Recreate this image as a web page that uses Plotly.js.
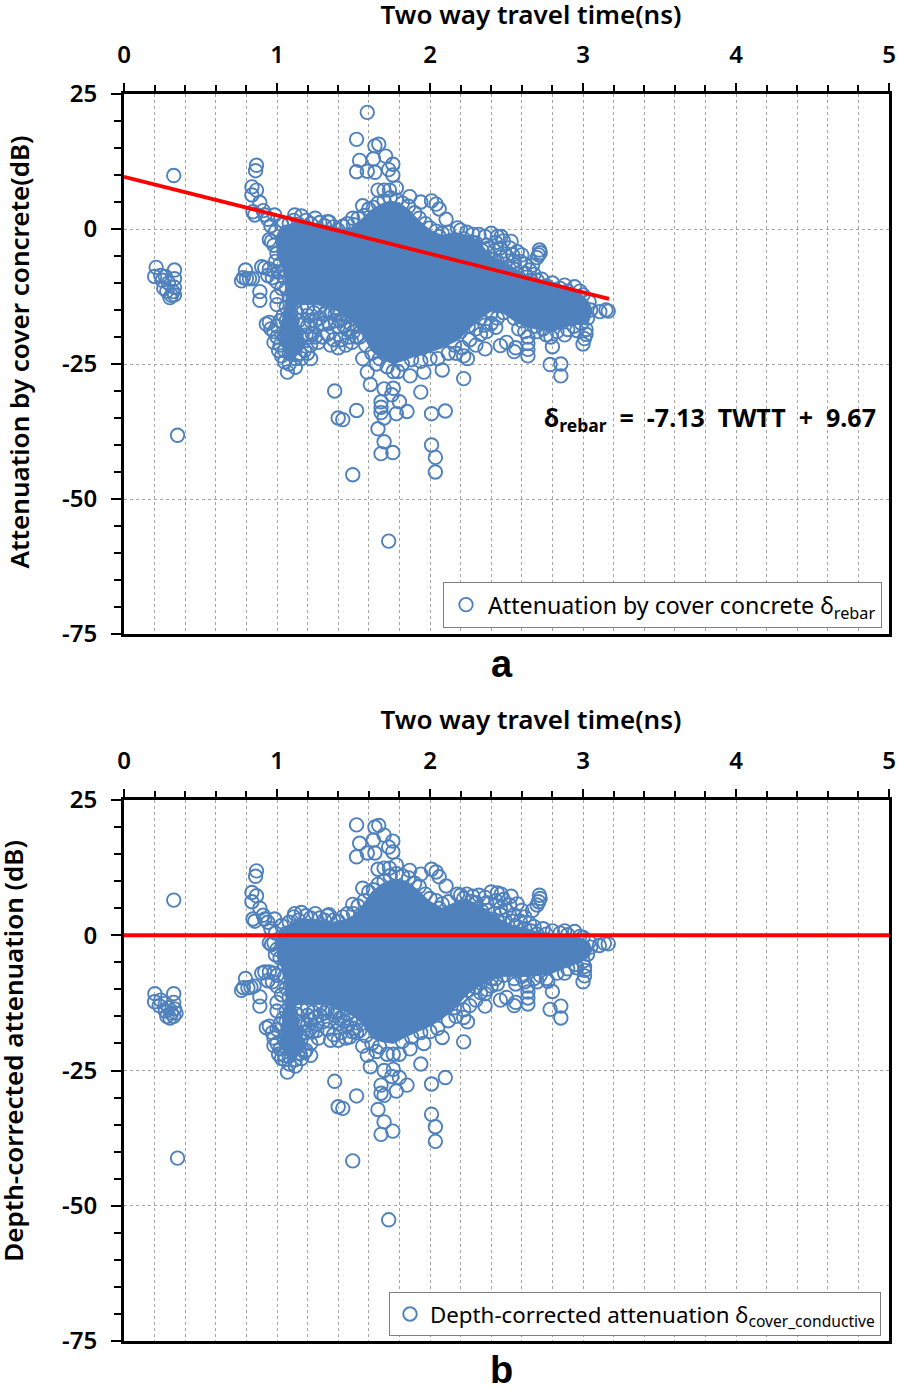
<!DOCTYPE html>
<html>
<head>
<meta charset="utf-8">
<script src="https://cdn.plot.ly/plotly-3.0.1.min.js"></script>
<style>html,body{margin:0;padding:0;background:#fff}</style>
</head>
<body>
<div id="chart" style="width:898px;height:1390px"></div>
<script>
// Panel a: attenuation by cover concrete [TWTT ns, dB]
const rebarPoints = [
[.21,-7.1],[.2,-8.8],[.24,-8.6],[.27,-8.8],[.25,-9.5],[.29,-10],[.33,-7.6],[.33,-9.2],[.33,-10.8],[.26,-11],[.28,-11.5],[.31,-12.3],[.3,-12.7],[.33,-12.2],[.32,-11.6],
[.35,-38.2],[.325,9.9],
[.768,-9.6],[.78,-9],[.8,-9.2],[.82,-9.2],[.84,-9.2],[.794,-7.6],[.888,-11.6],[.888,-13.2],[.9,-7],[.92,-7.2],[.95,-7.4],[.98,-7.8],[1.01,-8],[.94,-8.6],[.97,-9],[1.0,-9.8],
[.93,-17.6],[.95,-17.3],[.96,-18.5],[.98,-19],[1.0,-18],[1.02,-17],[1.04,-16],[1.0,-20],[.98,-21],[1.02,-21.5],[1.05,-20],[1.07,-18],[1.1,-17],[1.12,-19],[1.14,-21],[1.05,-22.5],[1.03,-23.5],[1.08,-23],[1.1,-22],[1.15,-23],[1.18,-22.5],[1.2,-23],[1.12,-24],[1.05,-24.6],[1.068,-26.5],[1.12,-25.6],[1.16,-20],[1.09,-15.5],[1.13,-15.5],[1.06,-14.5],[1.0,-12.5],[1.03,-11],[1.0,-14],
[1.19,-19.6],[1.21,-20],[1.23,-19.4],[1.25,-20],[1.28,-16.5],[1.3,-20],[1.33,-19.5],[1.35,-21.5],[1.37,-20.5],[1.4,-22],[1.42,-20.5],[1.45,-21.5],[1.47,-20],[1.49,-21],[1.4,-18],[1.44,-18],[1.48,-17.5],[1.24,-15.5],[1.33,-15],[1.38,-17],[1.16,-14.5],
[1.377,-30],[1.4,-35],[1.43,-35.3],[1.52,-33.6],[1.66,-37],[1.7,-39.4],[1.68,-41.6],[1.757,-41.4],[1.68,-34],[1.495,-45.5],[1.73,-57.8],[2.035,-45],[2.035,-42.3],[2.01,-40],[2.1,-33.7],[2.01,-34.2],[1.94,-30.2],[2.22,-27.7],[1.85,-33.8],[1.78,-34.2],[1.7,-35],[1.68,-33],[1.68,-32],[1.8,-32],[1.75,-30.7],[1.7,-29.6],[1.76,-29.5],[1.59,-26.5],[1.61,-28.8],[1.87,-27.2],[1.96,-26.5],[2.08,-26.1],[1.72,-25.5],[1.76,-26.4],[1.79,-26.4],[1.65,-25],[1.56,-24],
[2.8,-21.8],[2.785,-25.1],[2.855,-25],[2.855,-27.2],[3,-21.3],[3.01,-20.3],[3.02,-19.5],[3.02,-18.6],[2.36,-22.2],[2.46,-21.6],[2.5,-21],[2.55,-22.7],[2.56,-22],[2.64,-23.5],[2.64,-22.3],[2.64,-21.2],[2.64,-20],[2.62,-19],[2.58,-18.5],[2.43,-18.2],[3.11,-15.3],[3.15,-15],[3.165,-15.2],
[2.245,-24],[2.22,-23.5],[2.21,-22],[2.17,-23],[2.12,-23],[2.05,-24],[2,-24],[1.94,-24.5],[1.88,-24.2],[1.82,-25],[2.26,-20.5],[2.3,-21.5],[2.33,-19.5],[2.37,-19],[2.3,-18.5],[2.4,-17.5],[2.74,-18.5],[2.79,-20],[2.83,-19],[2.9,-18.6],[2.94,-18],[2.99,-17.5],[3.03,-16.5],[3.05,-15],[3.04,-13.5],[3,-12.2],[2.945,-10.7],[2.98,-11.5],[2.9,-11.5],[2.85,-11],[2.8,-10],[2.76,-10.5],[2.7,-9.5],[2.66,-9.5],
[1.59,21.6],[1.52,16.6],[1.64,15.4],[1.665,15.7],[1.54,12.7],[1.63,13],[1.71,13.5],[1.757,12],[1.73,11],[1.757,10],[1.52,10.6],[1.59,10.7],[1.64,10.5],[1.66,7.2],[1.7,7.2],[1.735,7.2],[1.78,7.6],[1.867,6],[1.94,5],[2.01,5.2],[2.04,4.6],[2.06,3.7],[2.105,1.8],[1.56,4.3],[1.495,2],[.866,11.8],[.86,10.8],[.836,7.8],[.866,7.2],[.836,6.3],[.888,4.9],[.91,3.4],[.843,3.2],[.855,2.6],[.985,2.6],[1.116,2.6],[1.33,1.35],[.964,-2.3],[.95,-2],[.92,2.6],[.94,1.8],[.96,.6],
[.99,-.5],[1.03,.8],[1.06,-.6],[1.08,1],[1.11,1.6],[1.14,.9],[1.16,2.4],[1.19,1.6],[1.22,1],[1.25,2],[1.28,1.2],[1.31,.6],[1.34,1.3],[1.37,.4],[1.4,-.2],[1.43,.5],[1.46,1],[1.5,.8],[1.53,2],[1.57,2.5],[1.6,3.7],[1.63,4],[1.66,4.8],[1.7,5.2],[1.74,5.8],[1.78,5.4],[1.82,4.8],[1.86,4.2],[1.9,3],[1.93,2],[1.97,1],[2,.2],[2.04,-.4],[2.08,-.8],[2.12,-.6],[2.18,.2],[2.2,-.2],[2.24,-.6],[2.28,-1],[2.32,-1],[2.36,-1.4],[2.4,-.8],[2.44,-1.4],[2.465,-1.4],[2.48,-2.2],[2.53,-2.3],[2.57,-4.2],[2.6,-4.8],[2.715,-3.9],[2.72,-4.4],[2.71,-4.8],[2.7,-5.3],[2.67,-6.7],[2.62,-6.5],[2.55,-6],[2.5,-5],[2.46,-3.5],[2.42,-4],[2.38,-3.5],[2.34,-4],[2.49,-6.5],[2.44,-6],[2.56,-7.5],[2.62,-8.2],[2.4,-5.6],
[.98,-3],[1,-4.5],[.99,-6],[1.02,-6.5],[1.05,-7.5],[1.05,-9],[1.06,-11],[1.08,-12.5],[1.12,-13.5],[1.2,-14.5],[1.28,-14.2],[1.4,-15.5],[1.46,-16],[1.52,-18],[1.54,-20],[1.58,-21.5],[1.62,-23],[1.67,-24],[2.16,-21.5],[2.2,-19],[2.25,-18],[2.33,-16.5],[2.4,-15.5],[2.48,-15.5],[2.55,-16.5],[2.6,-17],[2.68,-18],
[1.22,-17],[1.26,-18],[1.3,-17.5],[1.34,-17.5],[1.36,-15.5],[1.43,-16.6],[1.46,-18.6],[1.5,-19],[1.27,-21],[1.17,-17.6],[1.09,-19.5],[1.06,-17],[1.12,-21.6],
[1.2,-16],[1.25,-17],[1.31,-15.8],[1.41,-17],[1.52,-20],[1.2,-18],[1.22,-21.5],[1.14,-17],[1.16,-24],[1.08,-25],[1.22,-24],[1.01,-22.5],[1.07,-21],[1.38,-15.8],[2.3,-2.6],[2.37,-3],[2.43,-2.5],[2.52,-3.5],[2.46,-5.2],[2.54,-4.8],[2.59,-6],[2.65,-7.6],[2.68,-8.4],[2.73,-9.3],[2.88,-10.4],[2.27,-2.4],[2.22,-1.8],[2.06,-1.4],[2.96,-18.8],[2.88,-19.6],[2.76,-19.6],[2.7,-19],[2.44,-16.5],[2.36,-17.8]
];
const rebarCoreOutline = [
[.99,-1.5],[1.03,0],[1.08,.8],[1.14,1.5],[1.2,1],[1.28,.8],[1.34,.6],[1.42,0],[1.5,.4],[1.56,2],[1.62,3.6],[1.68,4.6],[1.74,5.2],[1.8,4.8],[1.86,3.6],[1.93,1.5],[2,-.2],[2.08,-1.2],[2.16,-.6],[2.24,-1.2],[2.32,-2.4],[2.4,-5],[2.48,-6.2],[2.56,-7.5],[2.64,-8.6],[2.72,-9.4],[2.8,-9.8],[2.9,-10.8],[2.98,-11.8],[3.04,-13.6],[3.06,-15.2],[3.04,-17],
[2.98,-17.6],[2.9,-18],[2.8,-19],[2.72,-18.6],[2.64,-18.2],[2.56,-17.2],[2.48,-15.6],[2.4,-15.2],[2.34,-16.4],[2.26,-18.4],[2.18,-20.6],[2.08,-22],[2,-22.8],[1.92,-23.4],[1.84,-24.2],[1.76,-25],[1.68,-24],[1.62,-22.6],[1.56,-19.6],[1.5,-17.5],[1.42,-15.4],[1.34,-14.6],[1.26,-14],[1.18,-14],[1.12,-14],[1.12,-16],[1.16,-19],[1.18,-21.5],[1.15,-23],[1.1,-24],[1.05,-23],[1.02,-20],[1.04,-16],[1.06,-13],[1.05,-9],[1.03,-7],[1,-5]
];
const rebarFitX = [0, 3.17];
const rebarFitY = [9.67, -12.93];

// Panel b: depth-corrected attenuation [TWTT ns, dB]
const coverPoints = [
[.202,-10.8],[.325,-10.8],[.2,-12.3],[.24,-12],[.23,-13],[.27,-12.6],[.325,-12.4],[.27,-14],[.33,-13.6],[.29,-13.4],[.3,-15.3],[.325,-15],[.31,-14.4],[.28,-15],[.34,-14.4],
[.35,-41.2],[.325,6.5],
[.768,-10.2],[.78,-9.7],[.81,-9.7],[.83,-9.6],[.85,-9.4],[.794,-8],[.888,-11.4],[.888,-13.1],[.9,-7],[.92,-6.8],[.95,-6.8],[.98,-7],[1,-7.4],[.94,-8.4],[.97,-8.6],[1,-9.4],
[.93,-17.1],[.95,-16.8],[.97,-18],[.98,-19],[1,-17.4],[1.02,-16.4],[1.04,-15.4],[1,-20],[.98,-20.4],[1.02,-21],[1.05,-19.5],[1.07,-17.5],[1.1,-16],[1.12,-18.4],[1.14,-20.5],[1.05,-22.2],[1.03,-22.8],[1.08,-22.4],[1.1,-21.4],[1.15,-21.8],[1.18,-21.6],[1.19,-21.3],[1.12,-23],[1.05,-23],[1.068,-25.3],[1.12,-24.2],[1.16,-19],[1.09,-14.6],[1.13,-14.6],[1.06,-14],[1,-12.4],[1.03,-11],[1,-14],
[1.17,-17.9],[1.19,-18],[1.21,-17.6],[1.23,-17.9],[1.26,-17.6],[1.235,-14.2],[1.33,-13.6],[1.33,-17.4],[1.35,-19.4],[1.37,-18.4],[1.4,-19.4],[1.42,-18],[1.45,-19],[1.475,-18.8],[1.49,-17.8],[1.4,-16.4],[1.44,-16],[1.48,-15.6],[1.28,-14.8],[1.38,-14.8],[1.16,-13.6],
[1.377,-27],[1.4,-31.7],[1.43,-32],[1.52,-29.7],[1.66,-32.2],[1.7,-34.5],[1.68,-36.8],[1.757,-36.2],[1.68,-27.7],[1.495,-41.7],[1.73,-52.6],[2.035,-38.1],[2.035,-35.4],[2.01,-33.1],[2.1,-26.3],[2.01,-27.5],[1.94,-23.8],[2.22,-19.7],[1.85,-27.7],[1.78,-28.8],[1.7,-29.6],[1.68,-29.2],[1.8,-26.3],[1.75,-26.1],[1.7,-25],[1.76,-24.8],[1.59,-22.2],[1.61,-24.3],[1.87,-21],[1.96,-20],[2.08,-18.9],[1.76,-22],[1.72,-22],[1.8,-22],[1.65,-21.5],[1.56,-20.5],
[2.8,-10.4],[2.785,-13.7],[2.855,-13.1],[2.855,-15.3],[3,-8.6],[3.01,-7.5],[3.01,-6.5],[3.01,-5.8],[2.36,-13.1],[2.46,-12],[2.5,-11.5],[2.55,-13],[2.56,-12.4],[2.64,-12.7],[2.64,-11.6],[2.64,-10.5],[2.64,-9.4],[2.62,-8.6],[2.56,-9],[2.43,-8],[3.107,-1.9],[3.14,-1.5],[3.165,-1.6],
[2.245,-16],[2.22,-15.2],[2.22,-13.8],[2.17,-15],[2.12,-15.8],[2.05,-17.2],[2,-17.8],[1.94,-18],[1.88,-18.8],[1.82,-19.6],[2.26,-13],[2.3,-12],[2.33,-10.6],[2.37,-10],[2.3,-9.6],[2.4,-9.4],[2.72,-7.4],[2.77,-8.5],[2.83,-7],[2.9,-6.2],[2.95,-5.4],[3,-4.8],[3.03,-3.5],[3.05,-2.2],[3.04,-1.2],[3,-.4],[2.945,.7],[2.98,-.2],[2.9,.1],[2.85,.4],[2.8,.8],[2.76,.2],[2.7,.2],[2.66,.8],
[1.52,20.4],[1.64,20],[1.665,20.3],[1.54,17],[1.63,17.6],[1.7,18.5],[1.757,17.4],[1.73,16.3],[1.757,15.4],[1.52,14.5],[1.59,15.2],[1.64,15.2],[1.66,12.2],[1.7,12.4],[1.735,12.4],[1.78,13],[1.867,12],[1.94,11.3],[2.01,12.2],[2.04,11.7],[2.06,10.8],[2.105,9.1],[1.56,8.7],[1.495,5.7],[.866,11.9],[.86,10.9],[.836,7.9],[.866,7.3],[.836,6.2],[.888,5],[.91,3.7],[.843,3],[.855,2.6],[.985,3],[1.116,4],[1.33,3.6],[.964,-1.7],[.95,-1.4],[.92,3],[.94,2.4],[.96,1.2],
[.99,.4],[1.03,1.8],[1.06,.4],[1.08,2.4],[1.11,3.4],[1.14,2.8],[1.16,4.2],[1.19,3.6],[1.22,3.2],[1.25,4],[1.28,3.2],[1.31,2.8],[1.34,3.8],[1.37,2.8],[1.4,2.6],[1.43,3.4],[1.46,4],[1.5,4],[1.53,5.4],[1.57,6.4],[1.6,8],[1.63,8.4],[1.66,9.4],[1.7,10],[1.74,11],[1.78,11.4],[1.82,11],[1.86,10.6],[1.9,9.6],[1.93,9],[1.97,7.6],[2,6.8],[2.04,6.4],[2.08,5.8],[2.12,6.2],[2.18,7.6],[2.2,7.4],[2.24,7.6],[2.28,7.2],[2.32,7.4],[2.36,7],[2.4,8],[2.44,7.8],[2.465,7.6],[2.48,6.6],[2.53,7.2],[2.57,5.8],[2.6,4.6],[2.715,7.4],[2.72,6.8],[2.71,6.2],[2.7,5.6],[2.67,4.6],[2.62,3.4],[2.55,3.8],[2.5,4.6],[2.46,5],[2.42,4],[2.38,4.6],[2.34,4.4],[2.49,2.8],[2.44,2.6],[2.56,1.8],[2.62,1.2],[2.4,3],
[.98,-1.4],[1,-2.6],[.99,-3.6],[1.02,-4.2],[1.05,-5.6],[1.05,-7.6],[1.06,-9.8],[1.08,-11.4],[1.12,-12.6],[1.2,-13.4],[1.28,-13],[1.4,-14],[1.46,-14.6],[1.52,-16.2],[1.54,-17.6],[1.58,-18.6],[1.62,-20],[1.67,-20.6],[2.16,-13.4],[2.2,-11.4],[2.25,-10.2],[2.33,-8.8],[2.4,-8],[2.48,-7.4],[2.55,-8],[2.6,-7.6],[2.68,-8],
[1.22,-15.6],[1.26,-16.4],[1.3,-16],[1.34,-15.8],[1.36,-14],[1.43,-15],[1.46,-16.8],[1.5,-17.2],[1.27,-19],[1.17,-16.2],[1.09,-18.4],[1.06,-16],[1.12,-20.2],
[1.2,-14.8],[1.25,-15.2],[1.31,-14.4],[1.41,-15.4],[1.52,-18],[1.2,-16.6],[1.22,-20],[1.14,-16],[1.16,-22.8],[1.08,-23.8],[1.22,-22.2],[1.01,-22],[1.07,-20],[1.38,-14.2],[2.3,6],[2.37,6],[2.43,6.4],[2.52,5.6],[2.46,3.8],[2.54,2.6],[2.59,2.6],[2.65,2.2],[2.68,1.6],[2.74,1.2],[2.88,.8],[2.27,6.2],[2.22,6.8],[2.06,5],[2.96,-6],[2.88,-7],[2.76,-8],[2.7,-8.6],[2.44,-9],[2.36,-10.8]
];
const coverCoreOutline = [
[.99,-.6],[1.03,1],[1.08,2],[1.14,3],[1.2,3],[1.28,2.8],[1.36,2.4],[1.44,2.8],[1.5,3.6],[1.56,5.6],[1.62,8],[1.68,9.4],[1.76,10.4],[1.84,10],[1.92,8.4],[2,6.2],[2.08,5],[2.16,6],[2.24,6.6],[2.32,5.6],[2.4,4],[2.48,2.6],[2.56,1.6],[2.64,1],[2.72,.6],[2.8,.2],[2.9,0],[2.98,-.4],[3.04,-1.4],[3.06,-2.6],[3.04,-4],
[2.98,-5],[2.9,-5.8],[2.8,-7],[2.72,-7.4],[2.64,-7.6],[2.56,-7.6],[2.48,-7.6],[2.4,-8.2],[2.32,-9.4],[2.24,-11],[2.16,-13.6],[2.08,-15.4],[2,-16.8],[1.92,-17.8],[1.84,-18.8],[1.76,-20],[1.68,-19.6],[1.62,-19],[1.56,-16.4],[1.5,-15],[1.42,-13.6],[1.34,-13],[1.26,-12.8],[1.18,-12.8],[1.12,-12.8],[1.12,-15],[1.16,-18],[1.18,-20.5],[1.15,-22],[1.09,-23],[1.05,-21.5],[1.02,-19],[1.04,-15],[1.06,-12],[1.05,-8.6],[1.03,-6],[1,-4]
];
const coverFitX = [0, 5];
const coverFitY = [0, 0];

const xTickVals = [0,1,2,3,4,5];
const xTickText = ["0","1","2","3","4","5"];
const yTickVals = [25,0,-25,-50,-75];
const yTickText = ["25","0","-25","-50","-75"];
const xTitle = "Two way travel time(ns)";
const yTitleA = "Attenuation by cover concrete(dB)";
const yTitleB = "Depth-corrected attenuation (dB)";
const legendA = "Attenuation by cover concrete δ<sub>rebar</sub>";
const legendB = "Depth-corrected attenuation δ<sub>cover_conductive</sub>";
const equationText = "<b>δ<sub>rebar</sub>&nbsp; = &nbsp;-7.13 &nbsp;TWTT &nbsp;+ &nbsp;9.67</b>";
const panelA = "a", panelB = "b";

const BLUE = "#4F81BD", RED = "#FF0000", FONT = "'Noto Sans', 'Open Sans', sans-serif";
const H = 1390, W = 898;
const marker = {symbol:"circle-open", size:13.5, color:BLUE, line:{width:1.9, color:BLUE}};
function core(p, xa, ya){ return {x:p.map(d=>d[0]), y:p.map(d=>d[1]), xaxis:xa, yaxis:ya, mode:"lines", fill:"toself", fillcolor:BLUE, line:{color:BLUE,width:1}, showlegend:false, hoverinfo:"skip"}; }
function pts(p, xa, ya, name, lg){ return {x:p.map(d=>d[0]), y:p.map(d=>d[1]), xaxis:xa, yaxis:ya, mode:"markers", name:name, legend:lg, marker:marker}; }
function fit(x, y, xa, ya){ return {x:x, y:y, xaxis:xa, yaxis:ya, mode:"lines", line:{color:RED,width:3.8}, showlegend:false, hoverinfo:"skip"}; }

const traces = [
  core(rebarCoreOutline,"x","y"), pts(rebarPoints,"x","y",legendA,"legend"), fit(rebarFitX,rebarFitY,"x","y"),
  core(coverCoreOutline,"x2","y2"), pts(coverPoints,"x2","y2",legendB,"legend2"), fit(coverFitX,coverFitY,"x2","y2")
];
function xAxis(anchor){ return {
  anchor:anchor, side:"top", range:[0,5], domain:[124/W,889/W], tickmode:"array", tickvals:xTickVals, ticktext:xTickText, ticks:"outside", ticklen:8, tickwidth:2, tickcolor:"#000",
  showline:true, linecolor:"#000", linewidth:3, mirror:true, zeroline:false,
  showgrid:true, griddash:"dot", gridcolor:"#a6a6a6", gridwidth:1,
  minor:{dtick:.2, tick0:0, ticks:"outside", ticklen:6, tickwidth:2, tickcolor:"#000", showgrid:true, griddash:"dot", gridcolor:"#a6a6a6", gridwidth:1},
  tickfont:{family:FONT,size:24,color:"#000",weight:600}, ticklabelstandoff:10,
  title:{text:xTitle, font:{family:FONT,size:26,color:"#000",weight:600}, standoff:8}
};}
function yAxis(anchor, top, bottom, title, standoff){ return {
  anchor:anchor, range:[-75,25], domain:[1-bottom/H,1-top/H], tickmode:"array", tickvals:yTickVals, ticktext:yTickText, ticks:"outside", ticklen:10, tickwidth:2, tickcolor:"#000",
  showline:true, linecolor:"#000", linewidth:3, mirror:true, zeroline:false,
  showgrid:true, griddash:"dot", gridcolor:"#a6a6a6", gridwidth:1,
  minor:{dtick:5, tick0:0, ticks:"outside", ticklen:7, tickwidth:2, tickcolor:"#000", showgrid:false},
  tickfont:{family:FONT,size:24,color:"#000",weight:600}, ticklabelstandoff:9,
  title:{text:title, font:{family:FONT,size:26,color:"#000",weight:600}, standoff:standoff}
};}
function lg(x, yTop, size, iw){ return {x:x/W, y:1-yTop/H, xanchor:"left", yanchor:"top", bgcolor:"#fff", bordercolor:"#7f7f7f", borderwidth:1, font:{family:FONT,size:size,color:"#000"}, itemsizing:"trace", itemwidth:iw, tracegroupgap:0}; }
const layout = {
  width:W, height:H, margin:{l:0,r:0,t:0,b:0}, paper_bgcolor:"#fff", plot_bgcolor:"#fff", showlegend:true, hovermode:false,
  xaxis:xAxis("y"), yaxis:yAxis("x",94,634,yTitleA,26),
  xaxis2:xAxis("y2"), yaxis2:yAxis("x2",800,1341,yTitleB,32),
  legend:lg(443,582,23.2,34), legend2:lg(389,1292,22.3,30),
  annotations:[
    {text:equationText, xref:"paper", yref:"paper", x:710/W, y:1-418/H, xanchor:"center", yanchor:"middle", showarrow:false, font:{family:FONT,size:25,color:"#000"}},
    {text:"<b>"+panelA+"</b>", xref:"paper", yref:"paper", x:502/W, y:1-664/H, xanchor:"center", yanchor:"middle", showarrow:false, font:{family:"'Liberation Sans',Arial,sans-serif",size:38,color:"#000"}},
    {text:"<b>"+panelB+"</b>", xref:"paper", yref:"paper", x:502/W, y:1-1370/H, xanchor:"center", yanchor:"middle", showarrow:false, font:{family:"'Liberation Sans',Arial,sans-serif",size:38,color:"#000"}}
  ]
};
// The reference's axis titles sit off-centre from their axes: nudge the real title groups.
function place(sel, cx, cy){
  const g = document.querySelector(sel);
  if(!g) return;
  const b = g.getBoundingClientRect();
  g.setAttribute("transform", "translate(" + (cx-(b.left+b.width/2)) + "," + (cy-(b.top+b.height/2)) + ")");
}
Plotly.newPlot("chart", traces, layout, {displayModeBar:false, staticPlot:true}).then(function(){
  place(".g-xtitle", 531, 20);
  place(".g-x2title", 531, 719);
  place(".g-ytitle", 19, 352);
  place(".g-y2title", 19, 1051);
});
</script>
</body>
</html>
